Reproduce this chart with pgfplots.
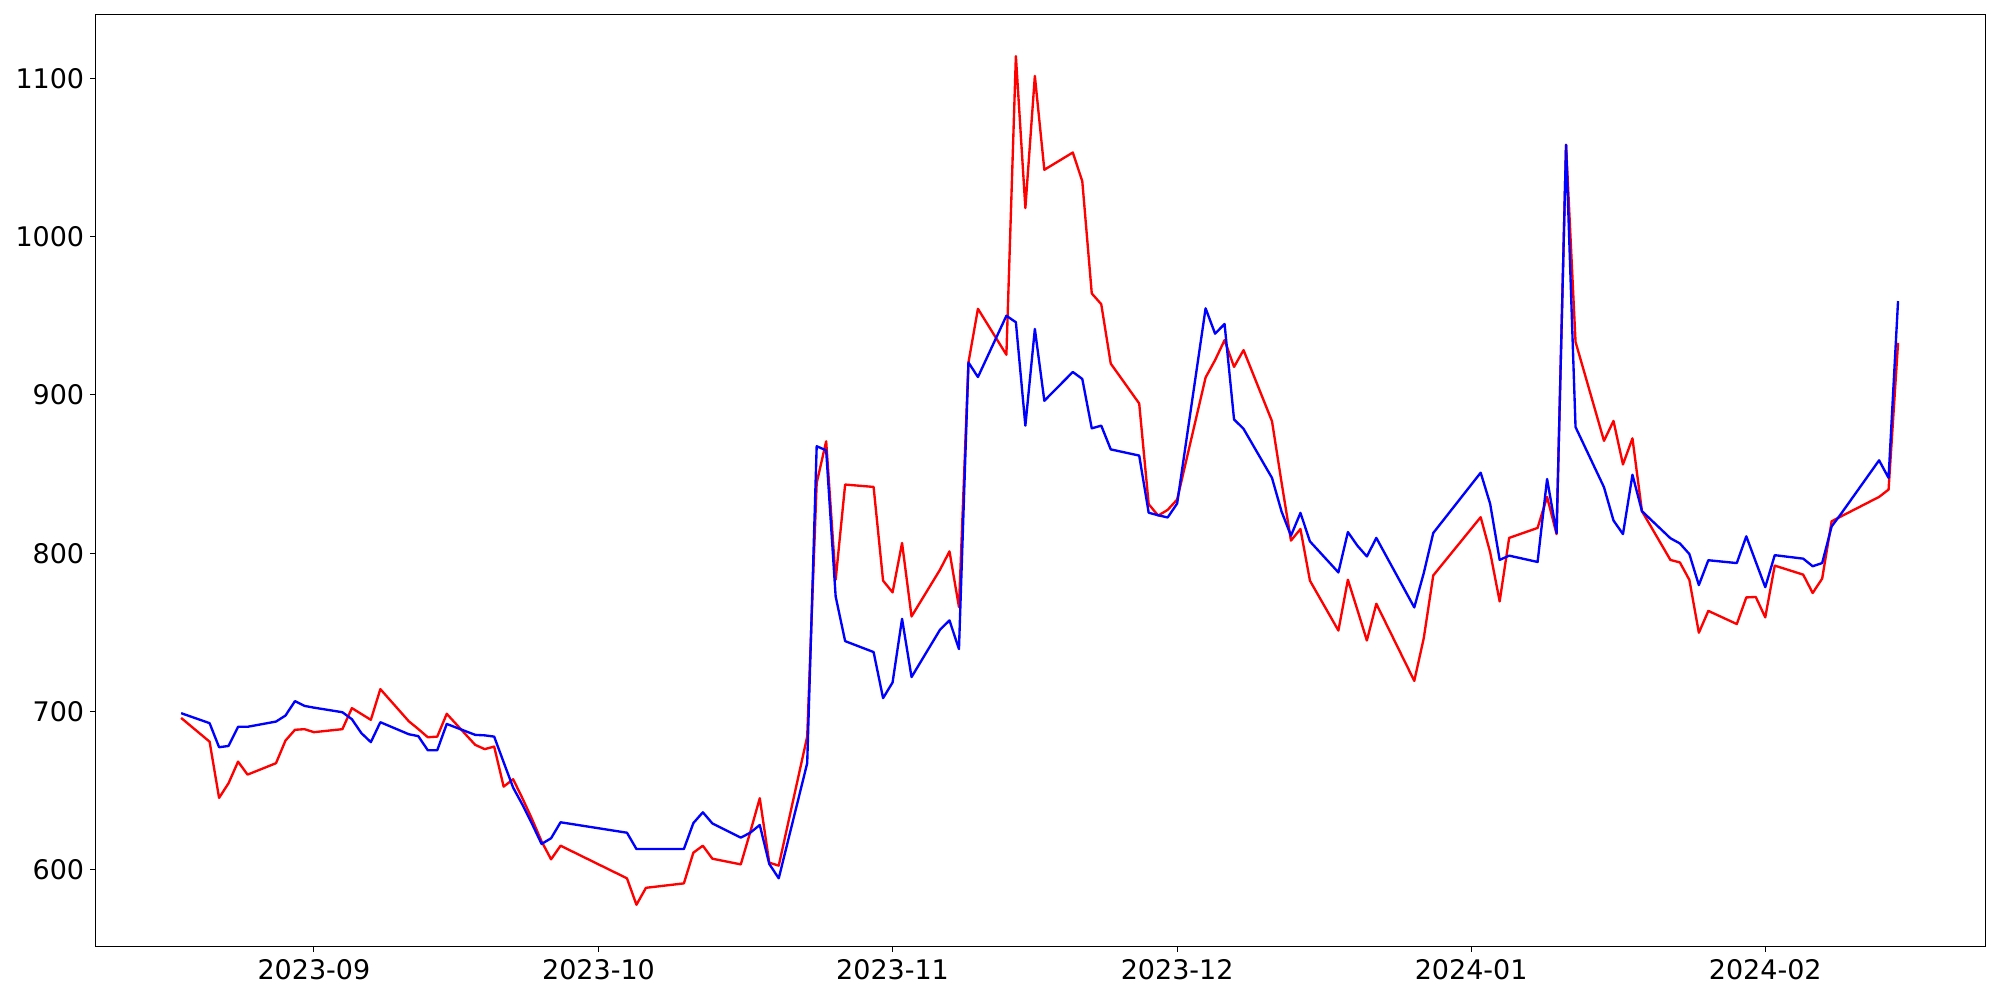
\documentclass[border=0pt]{standalone}
\usepackage{pgfplots}
\pgfplotsset{compat=1.18}
\usepackage{fontspec}
\setmainfont{DejaVu Sans}
\begin{document}
\begin{tikzpicture}
\begin{axis}[
  scale only axis,
  width=1365.9pt, height=673.5pt,
  xmin=-23.05, xmax=176.2,
  ymin=551.4, ymax=1140.0,
  xtick={0,30,61,91,122,153},
  xticklabels={2023-09,2023-10,2023-11,2023-12,2024-01,2024-02},
  ytick={600,700,800,900,1000,1100},
  /pgf/number format/assume math mode=true,
  /pgf/number format/set thousands separator={},
  tick align=outside,
  tick pos=left,
  major tick length=3.5pt,
  every tick/.style={black, line width=0.8pt},
  axis line style={line width=0.8pt},
  ticklabel style={font=\fontsize{19.5}{22}\selectfont},
  xticklabel style={yshift=-2pt},
  yticklabel style={xshift=-1pt},
  axis background/.style={fill=white},
]
\addplot[red, line width=1.7pt, line join=round] coordinates {
(-14,696) (-11,681) (-10,645.5) (-9,654.8) (-8,668.4) (-7,660.2)
(-4,667.4) (-3,681.7) (-2,688.5) (-1,688.9) (0,687)
(3,688.9) (4,702.2) (5,698.5) (6,694.8) (7,714.2)
(10,693.9) (11,689) (12,683.8) (13,684.2) (14,698.6)
(17,679) (18,676.3) (19,677.9) (20,652.6) (21,657.3)
(22,645) (23,632) (24,618) (25,606.7) (26,615.3)
(33,594.7) (34,578) (35,588.7) (39,591.5) (40,610.9) (41,615.3) (42,607.1)
(45,603.5) (46,624) (47,645.3) (48,604.6) (49,602.7)
(52,684.2) (53,844.4) (54,870.7) (55,783.3) (56,843.4)
(59,841.9) (60,782.7) (61,775.3) (62,806.5) (63,760.1)
(66,789.6) (67,801.2) (68,766) (69,920.5) (70,954.4)
(73,925.4) (74,1114) (75,1018) (76,1101.5) (77,1042.2)
(80,1053.1) (81,1035) (82,964.1) (83,957.3) (84,919.8)
(87,894.6) (88,831) (89,823.8) (90,827.4) (91,833.9)
(94,911) (95,922) (96,934.6) (97,917.7) (98,928.3)
(101,883.4) (102,845) (103,808) (104,815.3) (105,782.7)
(108,751.2) (109,783.3) (110,764.3) (111,744.9) (112,768.1)
(116,719.4) (117,746.4) (118,786)
(123,822.8) (124,800.6) (125,769.6) (126,809.7)
(129,816) (130,835.6) (131,812.1) (132,1058) (133,933.5)
(136,871) (137,883.6) (138,856.1) (139,872.6) (140,826.6)
(143,795.8) (144,794.2) (145,783.2) (146,749.8) (147,763.6)
(150,755.3) (151,772.1) (152,772.4) (153,759.5) (154,792.2)
(157,786.5) (158,774.9) (159,784) (160,820.2) (161,823.3)
(165,835.6) (166,840.2) (167,932.9)
};
\addplot[blue, line width=1.7pt, line join=round] coordinates {
(-14,699) (-11,692.7) (-10,677.5) (-9,678.3) (-8,690.4) (-7,690.4)
(-4,693.7) (-3,697.5) (-2,706.6) (-1,703.6) (0,702.5)
(3,699.6) (4,695.2) (5,686.4) (6,680.7) (7,693.3)
(10,685.7) (11,684.5) (12,675.6) (13,675.6) (14,692.2)
(17,685.3) (18,685) (19,684.2) (20,668) (21,652)
(22,641) (23,629) (24,616.4) (25,620) (26,630.1)
(33,623.5) (34,613.2) (35,613.2) (39,613.2) (40,629.6) (41,636.4) (42,629.4)
(45,620.4) (46,623.5) (47,628.4) (48,603.8) (49,594.7)
(52,667.4) (53,867.6) (54,865) (55,772.7) (56,744.5)
(59,737.6) (60,708.5) (61,718.4) (62,758.6) (63,721.8)
(66,751.7) (67,757.6) (68,739.5) (69,920.5) (70,911.3)
(73,950) (74,945.9) (75,880.6) (76,941.7) (77,896.3)
(80,914.5) (81,910.1) (82,878.9) (83,880.6) (84,865.6)
(87,861.7) (88,825.6) (89,824) (90,822.6) (91,831.4)
(94,954.7) (95,938.7) (96,944.8) (97,884.5) (98,878.6)
(101,847.6) (102,826.5) (103,811.1) (104,825.5) (105,807.5)
(108,787.9) (109,813.4) (110,804.8) (111,798) (112,809.7)
(116,765.8) (117,787.5) (118,812.8)
(123,850.9) (124,831.2) (125,795.8) (126,798.5)
(129,794.5) (130,846.9) (131,812.8) (132,1058) (133,879.7)
(136,841.7) (137,820.7) (138,812.1) (139,849.6) (140,826.6)
(143,809.5) (144,806.2) (145,799.5) (146,779.9) (147,795.6)
(150,793.8) (151,810.7) (152,794.6) (153,778.6) (154,798.8)
(157,796.6) (158,791.8) (159,793.8) (160,817) (161,825)
(165,858.7) (166,847.6) (167,959.3)
};
\end{axis}
\path[use as bounding box] ([xshift=-68.87pt, yshift=-38.3pt]current axis.south west) rectangle ([xshift=10.62pt, yshift=10.8pt]current axis.north east);
\end{tikzpicture}
\end{document}
